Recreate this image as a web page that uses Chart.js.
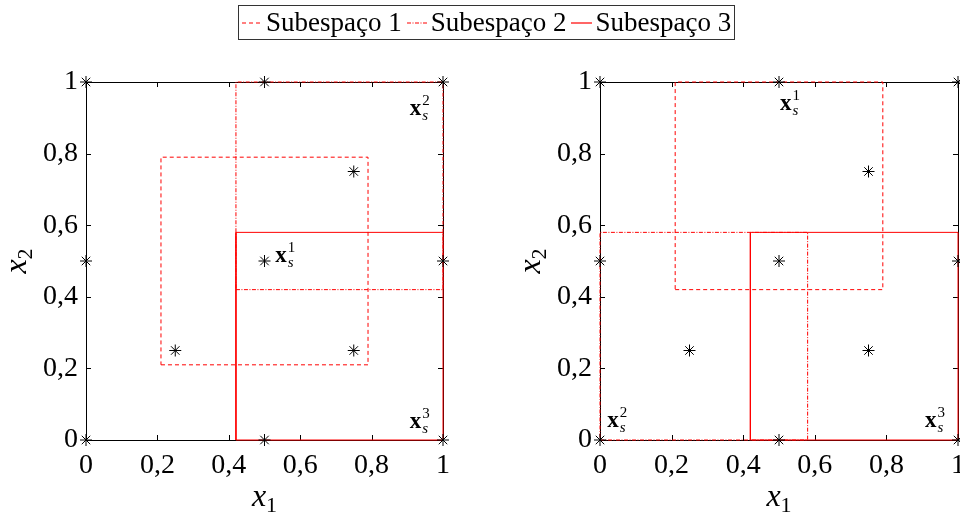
<!DOCTYPE html>
<html>
<head>
<meta charset="utf-8">
<script src="https://cdn.jsdelivr.net/npm/chart.js@4"></script>
<style>
  body { margin: 0; background: #fff; }
  #wrap { position: relative; width: 960px; height: 515px; overflow: hidden; }
  canvas { position: absolute; top: 0; }
  #legend {
    position: absolute; left: 238px; top: 5px; width: 497px; height: 35px;
    border: 1px solid #333; box-sizing: border-box;
    font-family: 'Liberation Serif', serif; font-size: 27px; color: #000;
    display: flex; align-items: center; white-space: nowrap;
  }
  #legend span.item { display: flex; align-items: center; margin-right: 2px; }
  #legend svg { margin: 0 3px 0 3px; }
</style>
</head>
<body>
<div id="wrap">
  <canvas id="left-chart" width="480" height="515" style="left:0"></canvas>
  <canvas id="right-chart" width="500" height="515" style="left:480px"></canvas>
  <div id="legend"></div>
</div>
<script>
Chart.defaults.font.family = 'Liberation Serif'

// sample points (same in both plots)
const pointsX = [0, 0.5, 1, 0, 0.5, 1, 0, 0.5, 1, 0.25, 0.75, 0.75];
const pointsY = [0, 0, 0, 0.5, 0.5, 0.5, 1, 1, 1, 0.25, 0.25, 0.75];

// subspace boxes as [xmin, xmax, ymin, ymax]
const leftSub1 = [0.21, 0.79, 0.21, 0.79];
const leftSub2 = [0.42, 1, 0.42, 1];
const leftSub3 = [0.42, 1, 0, 0.58];
const rightSub1 = [0.21, 0.79, 0.42, 1];
const rightSub2 = [0, 0.58, 0, 0.58];
const rightSub3 = [0.42, 1, 0, 0.58];

// x_s^i labels, anchored in data units
const leftLabelX = [0.53, 0.907, 0.907];
const leftLabelY = [0.497, 0.908, 0.034];
const rightLabelX = [0.503, 0.02, 0.908];
const rightLabelY = [0.922, 0.036, 0.036];
const labelNums = ['1', '2', '3'];

const tickValues = [0, 0.2, 0.4, 0.6, 0.8, 1];
const seriesNames = ['Subespaço 1', 'Subespaço 2', 'Subespaço 3'];
const dashes = [[4, 3], [4, 1.5, 1, 1.5], []];

const boxPoints = (b) => [
  { x: b[0], y: b[2] }, { x: b[1], y: b[2] }, { x: b[1], y: b[3] },
  { x: b[0], y: b[3] }, { x: b[0], y: b[2] }
];

const fmt = (v) => String(Math.round(v * 10) / 10).replace('.', ',');

// frame with inward ticks on all four sides, plus text annotations
const framePlugin = {
  id: 'frame',
  beforeDatasetsDraw(chart) {
    const { ctx, chartArea: a, scales } = chart;
    ctx.save();
    ctx.strokeStyle = '#000';
    ctx.lineWidth = 1;
    ctx.strokeRect(a.left + 0.5, a.top + 0.5, a.right - a.left, a.bottom - a.top);
    ctx.beginPath();
    tickValues.forEach(v => {
      const px = Math.round(scales.x.getPixelForValue(v)) + 0.5;
      const py = Math.round(scales.y.getPixelForValue(v)) + 0.5;
      ctx.moveTo(px, a.bottom); ctx.lineTo(px, a.bottom - 5);
      ctx.moveTo(px, a.top); ctx.lineTo(px, a.top + 5);
      ctx.moveTo(a.left, py); ctx.lineTo(a.left + 5, py);
      ctx.moveTo(a.right, py); ctx.lineTo(a.right - 5, py);
    });
    ctx.stroke();
    ctx.restore();
  },
  afterDraw(chart) {
    const { ctx, chartArea: a, scales } = chart;
    const opts = chart.options.plugins.frame;
    ctx.save();
    ctx.fillStyle = '#000';
    ctx.textBaseline = 'alphabetic';
    // x_s^i labels
    opts.lx.forEach((lx, i) => {
      const px = scales.x.getPixelForValue(lx);
      const py = scales.y.getPixelForValue(opts.ly[i]);
      ctx.font = 'bold 23px "Liberation Serif"';
      ctx.textAlign = 'left';
      ctx.fillText('x', px, py);
      const w = ctx.measureText('x').width;
      ctx.font = '15px "Liberation Serif"';
      ctx.fillText(labelNums[i], px + w + 1, py - 10);
      ctx.font = 'italic 15px "Liberation Serif"';
      ctx.fillText('s', px + w + 1, py + 5);
    });
    // axis titles
    const drawSub = (cx, cy, sub) => {
      ctx.font = 'italic 32px "Liberation Serif"';
      const w1 = ctx.measureText('x').width;
      ctx.font = '22px "Liberation Serif"';
      const w2 = ctx.measureText(sub).width;
      const x0 = cx - (w1 + w2) / 2;
      ctx.textAlign = 'left';
      ctx.font = 'italic 32px "Liberation Serif"';
      ctx.fillText('x', x0, cy);
      ctx.font = '22px "Liberation Serif"';
      ctx.fillText(sub, x0 + w1, cy + 6);
    };
    drawSub((a.left + a.right) / 2, 506, '1');
    ctx.translate(a.left - 60, (a.top + a.bottom) / 2);
    ctx.rotate(-Math.PI / 2);
    drawSub(0, 0, '2');
    ctx.restore();
  }
};

const makeChart = (id, subs, lx, ly, yAxisWidth, padRight) => {
  const datasets = [{
    label: 'pontos',
    data: pointsX.map((x, i) => ({ x, y: pointsY[i] })),
    pointStyle: 'star',
    pointRadius: 6,
    borderColor: '#000',
    backgroundColor: '#000',
    borderWidth: 1,
    showLine: false,
    order: 0
  }];
  subs.forEach((b, i) => {
    datasets.push({
      label: seriesNames[i],
      data: boxPoints(b),
      showLine: true,
      borderColor: 'rgb(255, 0, 0)',
      borderWidth: 1,
      borderDash: dashes[i],
      pointRadius: 0,
      fill: false,
      order: 1
    });
  });
  return new Chart(document.getElementById(id), {
    type: 'scatter',
    data: { datasets },
    options: {
      responsive: false,
      animation: false,
      clip: false,
      layout: { padding: { left: 0, right: padRight, top: 82, bottom: 0 } },
      plugins: {
        legend: { display: false },
        tooltip: { enabled: false },
        frame: { lx, ly }
      },
      scales: {
        x: {
          type: 'linear', min: 0, max: 1,
          grid: { display: false, drawTicks: false },
          border: { display: false },
          afterFit: (s) => { s.height = 75; },
          afterBuildTicks: (s) => { s.ticks = tickValues.map(v => ({ value: v })); },
          ticks: { color: '#000', font: { size: 28 }, padding: 9, maxRotation: 0, callback: fmt }
        },
        y: {
          type: 'linear', min: 0, max: 1,
          grid: { display: false, drawTicks: false },
          border: { display: false },
          afterFit: (s) => { s.width = yAxisWidth; },
          afterBuildTicks: (s) => { s.ticks = tickValues.map(v => ({ value: v })); },
          ticks: { color: '#000', font: { size: 28 }, padding: 8, callback: fmt }
        }
      }
    },
    plugins: [framePlugin]
  });
};

makeChart('left-chart', [leftSub1, leftSub2, leftSub3], leftLabelX, leftLabelY, 86, 37);
// right canvas runs past the page edge, so its area can reach x = 958
makeChart('right-chart', [rightSub1, rightSub2, rightSub3], rightLabelX, rightLabelY, 120, 22);

// legend
const legend = document.getElementById('legend');
seriesNames.forEach((name, i) => {
  const item = document.createElement('span');
  item.className = 'item';
  const dash = dashes[i].length ? dashes[i].join(',') : 'none';
  item.innerHTML = '<svg width="21" height="4"><line x1="0" y1="2" x2="21" y2="2" stroke="red" stroke-width="1.2" stroke-dasharray="' + dash + '"/></svg>';
  const t = document.createElement('span');
  t.textContent = name;
  item.appendChild(t);
  legend.appendChild(item);
});
</script>
</body>
</html>
